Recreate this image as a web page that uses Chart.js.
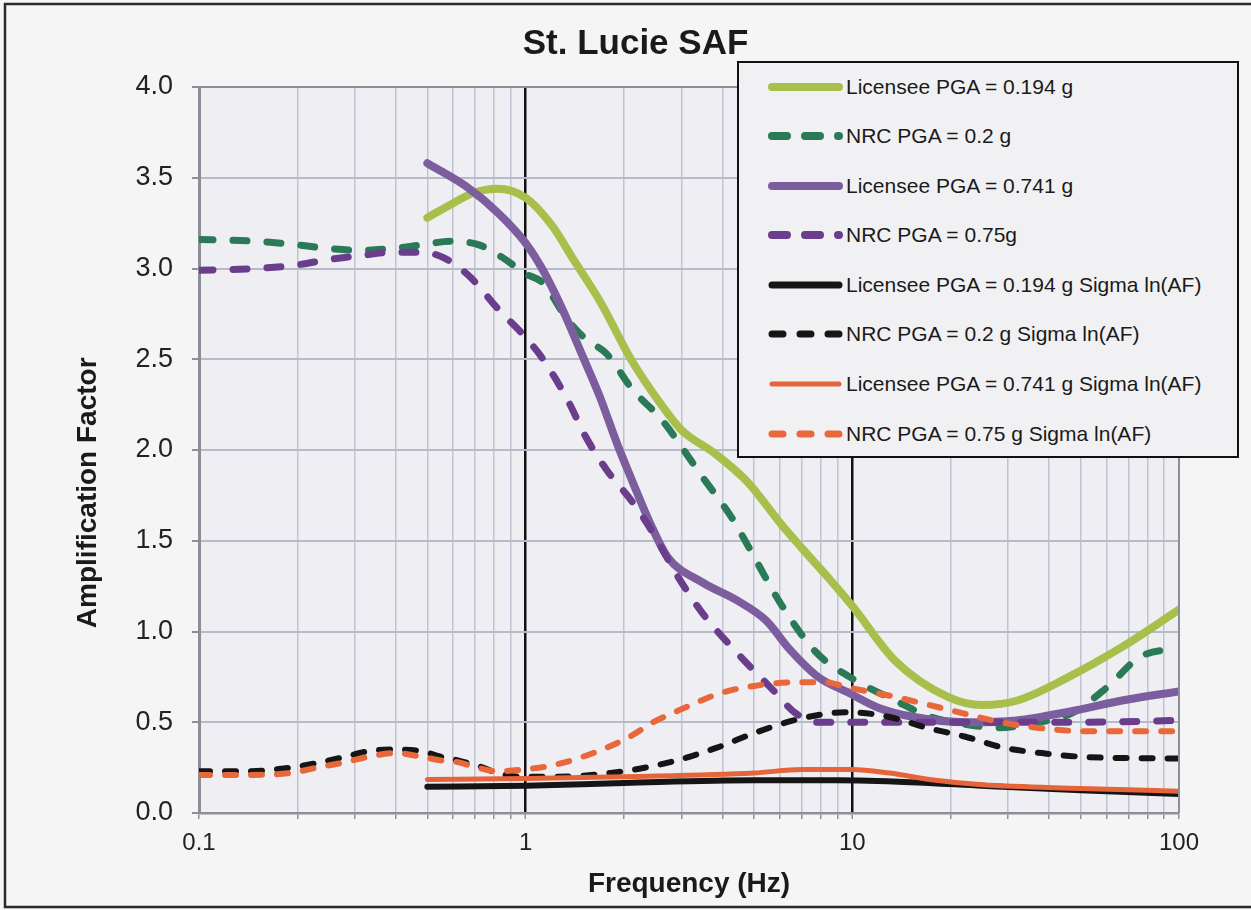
<!DOCTYPE html>
<html><head><meta charset="utf-8">
<script src="https://cdn.jsdelivr.net/npm/chart.js@4.4.1/dist/chart.umd.min.js"></script>
<style>
html,body{margin:0;padding:0;background:#f5f5f5;overflow:hidden;}
#wrap{position:relative;width:1251px;height:910px;}
#c{position:absolute;left:0;top:0;}
#legend{position:absolute;left:737px;top:61px;width:502px;height:397px;box-sizing:border-box;border:2px solid #111;background:#f1f1f3;font-family:"Liberation Sans",Arial,sans-serif;font-size:21px;color:#1a1a1a;}
.item{position:absolute;left:27px;height:30px;display:flex;align-items:center;white-space:nowrap;}
.item svg{margin-right:1px;}
</style></head>
<body>
<div id="wrap"><canvas id="c" width="1251" height="910"></canvas><div id="legend"></div></div>
<script>
// ---- data (frequency in Hz, amplification factor) ----
const seriesNames = [
  "Licensee PGA = 0.194 g",
  "NRC PGA = 0.2 g",
  "Licensee PGA = 0.741 g",
  "NRC PGA = 0.75g",
  "Licensee PGA = 0.194 g Sigma ln(AF)",
  "NRC PGA = 0.2 g Sigma ln(AF)",
  "Licensee PGA = 0.741 g Sigma ln(AF)",
  "NRC PGA = 0.75 g Sigma ln(AF)"
];
const xTickLabels = ["0.1", "1", "10", "100"];
const yTickLabels = ["0.0","0.5","1.0","1.5","2.0","2.5","3.0","3.5","4.0"];

const lic194F = [0.5, 0.6, 0.7, 0.82, 1.0, 1.2, 1.4, 1.7, 2.1, 2.6, 3.0, 3.8, 4.8, 6.0, 7.0, 8.5, 10, 13.5, 19.6, 25, 32, 46, 67, 100];
const lic194V = [3.28, 3.36, 3.42, 3.44, 3.39, 3.24, 3.05, 2.81, 2.50, 2.25, 2.11, 1.98, 1.82, 1.60, 1.46, 1.29, 1.14, 0.84, 0.64, 0.595, 0.62, 0.75, 0.915, 1.12];

const nrc02F = [0.1, 0.15, 0.2, 0.25, 0.31, 0.39, 0.48, 0.59, 0.72, 0.85, 1.0, 1.13, 1.34, 1.53, 1.77, 2.13, 2.6, 3.45, 4.3, 4.8, 6.1, 7.8, 9.8, 13.5, 17.3, 22, 28, 36, 47, 60, 76, 100];
const nrc02V = [3.16, 3.15, 3.13, 3.11, 3.10, 3.11, 3.13, 3.15, 3.13, 3.06, 2.97, 2.92, 2.72, 2.61, 2.53, 2.33, 2.17, 1.86, 1.62, 1.47, 1.14, 0.88, 0.75, 0.62, 0.53, 0.49, 0.47, 0.495, 0.55, 0.69, 0.86, 0.91];

const lic741F = [0.5, 0.66, 0.83, 1.0, 1.13, 1.3, 1.5, 1.69, 1.9, 2.13, 2.4, 2.72, 3.48, 4.45, 5.45, 6.44, 7.85, 9.8, 12, 15.3, 22.4, 31.8, 46.5, 67, 100];
const lic741V = [3.58, 3.45, 3.30, 3.14, 2.99, 2.77, 2.51, 2.29, 2.04, 1.82, 1.60, 1.41, 1.27, 1.17, 1.06, 0.90, 0.75, 0.66, 0.58, 0.53, 0.50, 0.51, 0.56, 0.62, 0.67];

const nrc075F = [0.1, 0.15, 0.2, 0.25, 0.31, 0.39, 0.48, 0.56, 0.67, 0.83, 1.0, 1.13, 1.34, 1.53, 1.77, 2.13, 2.46, 2.93, 3.48, 4.45, 5.7, 6.7, 7.85, 10, 20, 50, 100];
const nrc075V = [2.99, 3.00, 3.02, 3.05, 3.07, 3.09, 3.09, 3.06, 2.96, 2.77, 2.62, 2.50, 2.28, 2.07, 1.89, 1.71, 1.54, 1.30, 1.10, 0.88, 0.68, 0.55, 0.50, 0.50, 0.50, 0.50, 0.51];

const lic194SigF = [0.5, 1, 2, 5, 9, 15, 25, 50, 100];
const lic194SigV = [0.145, 0.15, 0.165, 0.18, 0.18, 0.17, 0.15, 0.125, 0.105];

const nrc02SigF = [0.1, 0.14, 0.19, 0.23, 0.28, 0.33, 0.4, 0.48, 0.55, 0.62, 0.74, 0.82, 0.98, 1.19, 1.5, 1.8, 2.25, 2.9, 3.85, 5.0, 6.6, 8.6, 9.8, 12.9, 16.9, 22.2, 29, 38, 50, 100];
const nrc02SigV = [0.23, 0.23, 0.25, 0.275, 0.31, 0.34, 0.35, 0.34, 0.31, 0.29, 0.25, 0.22, 0.20, 0.20, 0.205, 0.22, 0.245, 0.29, 0.36, 0.44, 0.51, 0.55, 0.555, 0.53, 0.47, 0.42, 0.36, 0.33, 0.31, 0.30];

const lic741SigF = [0.5, 1, 2, 5, 7, 10, 13, 18, 25, 50, 100];
const lic741SigV = [0.185, 0.19, 0.20, 0.22, 0.24, 0.24, 0.22, 0.18, 0.155, 0.135, 0.12];

const nrc075SigF = [0.1, 0.14, 0.19, 0.23, 0.28, 0.33, 0.4, 0.48, 0.55, 0.62, 0.71, 0.82, 0.98, 1.19, 1.44, 1.77, 2.13, 2.4, 3.07, 3.94, 5.0, 6.7, 8.2, 9.8, 13.5, 19.6, 28.5, 36.6, 53, 100];
const nrc075SigV = [0.21, 0.21, 0.22, 0.25, 0.28, 0.31, 0.33, 0.31, 0.29, 0.28, 0.25, 0.23, 0.24, 0.26, 0.30, 0.36, 0.43, 0.49, 0.58, 0.66, 0.70, 0.72, 0.72, 0.69, 0.64, 0.57, 0.50, 0.47, 0.45, 0.45];

// ---- styling ----
const FONT = '"Liberation Sans", Arial, Helvetica, sans-serif';
const styles = [
  {color:'#a9bf4c', width:8, dash:[], ldash:''},
  {color:'#2b7a57', width:7, dash:[14,20], ldash:'15 18'},
  {color:'#7c5e9f', width:8, dash:[], ldash:''},
  {color:'#6a3d8d', width:7, dash:[14,20], ldash:'15 18'},
  {color:'#151515', width:6, dash:[], ldash:''},
  {color:'#151515', width:6, dash:[11,15], ldash:'11 17'},
  {color:'#e6643a', width:5, dash:[], ldash:''},
  {color:'#e8683b', width:6, dash:[11,15], ldash:'11 17'}
];
const xs = [lic194F, nrc02F, lic741F, nrc075F, lic194SigF, nrc02SigF, lic741SigF, nrc075SigF];
const ys = [lic194V, nrc02V, lic741V, nrc075V, lic194SigV, nrc02SigV, lic741SigV, nrc075SigV];

const datasets = seriesNames.map((name, i) => ({
  label: name,
  data: xs[i].map((f, k) => ({x: f, y: ys[i][k]})),
  borderColor: styles[i].color,
  backgroundColor: styles[i].color,
  borderWidth: styles[i].width,
  borderDash: styles[i].dash,
  borderCapStyle: 'round',
  borderJoinStyle: 'round',
  cubicInterpolationMode: 'monotone',
  pointRadius: 0,
  fill: false,
  order: seriesNames.length - i,
  yAxisID: 'y'
}));

const xTickValues = [];
[0.1, 1, 10].forEach(d => { for (let k = 1; k <= 9; k++) xTickValues.push(parseFloat((k * d).toPrecision(3))); });
xTickValues.push(100);

const bgPlugin = {
  id: 'bg',
  beforeDraw(chart) {
    const {ctx, chartArea: a} = chart;
    ctx.save();
    ctx.fillStyle = '#f5f5f5';
    ctx.fillRect(0, 0, chart.width, chart.height);
    ctx.fillStyle = '#efeff3';
    ctx.fillRect(a.left, a.top, a.right - a.left, a.bottom - a.top);
    ctx.restore();
  },
  afterDraw(chart) {
    const {ctx, chartArea: a} = chart;
    ctx.save();
    ctx.strokeStyle = '#8c8f98';
    ctx.lineWidth = 2;
    ctx.beginPath();
    ctx.moveTo(a.left, a.top); ctx.lineTo(a.right, a.top); ctx.lineTo(a.right, a.bottom);
    ctx.stroke();
    ctx.strokeStyle = '#2a2a2a';
    ctx.lineWidth = 2.5;
    ctx.beginPath();
    ctx.moveTo(1260, 4); ctx.lineTo(5, 4); ctx.lineTo(5, 907); ctx.lineTo(1260, 907);
    ctx.stroke();
    ctx.restore();
  }
};

new Chart(document.getElementById('c'), {
  type: 'line',
  data: {datasets},
  plugins: [bgPlugin],
  options: {
    responsive: false,
    animation: false,
    layout: {padding: {left: 20, right: 0, top: 0, bottom: 0}},
    plugins: {
      legend: {display: false},
      tooltip: {enabled: false},
      title: {
        display: true, text: 'St. Lucie SAF', color: '#1a1a1a',
        font: {family: FONT, size: 35, weight: 'bold'},
        padding: {top: 23, bottom: 22}
      }
    },
    scales: {
      x: {
        type: 'logarithmic', position: 'bottom', min: 0.1, max: 100,
        afterBuildTicks: s => { s.ticks = xTickValues.map(v => ({value: v})); },
        afterFit: s => { s.height = 97; },
        ticks: {
          autoSkip: false, maxRotation: 0, padding: 10, color: '#222',
          font: {family: FONT, size: 24},
          callback: v => { const i = [0.1, 1, 10, 100].indexOf(v); return i >= 0 ? xTickLabels[i] : ''; }
        },
        grid: {
          color: c => (c.tick && (c.tick.value === 1 || c.tick.value === 10)) ? '#111111' : '#c0c3d1',
          lineWidth: c => (c.tick && (c.tick.value === 1 || c.tick.value === 10)) ? 2.5 : 1.5,
          tickColor: '#8c8f98', tickLength: 6, tickWidth: 1.5
        },
        border: {display: true, color: '#8c8f98', width: 2.5},
        title: {display: true, text: 'Frequency (Hz)', color: '#1a1a1a',
          font: {family: FONT, size: 28, weight: 'bold'}, padding: {top: 0, bottom: 9}}
      },
      y: {
        type: 'linear', position: 'left', min: 0, max: 4,
        afterFit: s => { s.width = 179; },
        afterBuildTicks: s => { s.ticks = yTickLabels.map(t => ({value: parseFloat(t)})); },
        ticks: {
          padding: 19, color: '#222', font: {family: FONT, size: 27},
          callback: v => yTickLabels[Math.round(v * 2)]
        },
        grid: {color: '#b7bac8', lineWidth: 2, tickColor: '#8c8f98', tickLength: 7},
        border: {display: true, color: '#8c8f98', width: 3},
        title: {display: true, text: 'Amplification Factor' + '\u00a0'.repeat(11), color: '#1a1a1a',
          font: {family: FONT, size: 28, weight: 'bold'}, padding: {top: 51, bottom: 0}}
      },
      yR: {
        type: 'linear', position: 'right', display: true,
        afterFit: s => { s.width = 72; },
        ticks: {display: false}, grid: {display: false, drawOnChartArea: false}, border: {display: false}
      }
    }
  }
});

// ---- legend (HTML) ----
const legend = document.getElementById('legend');
const rowCenters = [86.5, 136, 185.5, 235, 285, 334, 384, 434];
seriesNames.forEach((name, i) => {
  const st = styles[i];
  const div = document.createElement('div');
  div.className = 'item';
  div.style.top = (rowCenters[i] - 61 - 2 - 15) + 'px';
  const dash = st.ldash ? `stroke-dasharray="${st.ldash}"` : '';
  const w = i < 4 ? 8 : (i === 6 ? 5 : 7);
  div.innerHTML = `<svg width="79" height="14" viewBox="0 0 79 14"><line x1="6" y1="7" x2="73" y2="7" stroke="${st.color}" stroke-width="${w}" stroke-linecap="round" ${dash}/></svg><span>${name}</span>`;
  legend.appendChild(div);
});
</script>
</body></html>
